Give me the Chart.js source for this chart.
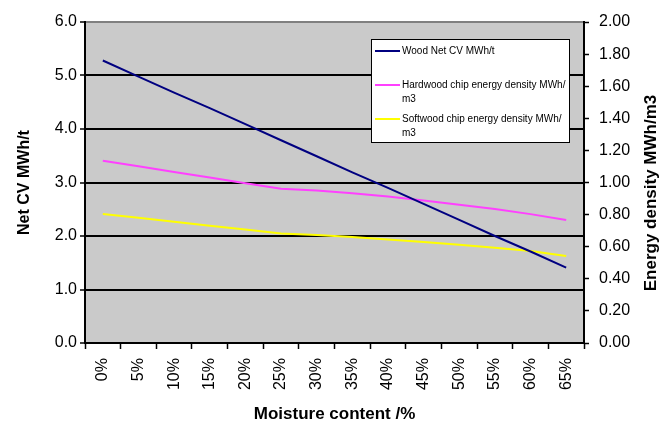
<!DOCTYPE html>
<html>
<head>
<meta charset="utf-8">
<script src="https://cdn.jsdelivr.net/npm/chart.js@4"></script>
<style>
  html, body { margin: 0; padding: 0; background: #fff; }
  #wrap { width: 660px; height: 421px; }
</style>
</head>
<body>
<div id="wrap"><canvas id="cvChart" width="660" height="421"></canvas></div>
<script>
// values
const moisture = ["0%", "5%", "10%", "15%", "20%", "25%", "30%", "35%", "40%", "45%", "50%", "55%", "60%", "65%"];
const woodNetCV = [5.28, 4.98, 4.68, 4.39, 4.09, 3.79, 3.49, 3.19, 2.90, 2.60, 2.30, 2.00, 1.71, 1.41];
const hardwoodDensity = [1.136, 1.101, 1.066, 1.031, 0.996, 0.961, 0.950, 0.933, 0.913, 0.888, 0.861, 0.835, 0.803, 0.766];
const softwoodDensity = [0.804, 0.780, 0.756, 0.731, 0.707, 0.683, 0.673, 0.660, 0.645, 0.630, 0.612, 0.594, 0.573, 0.542];

const FONT = "'Liberation Sans', Arial, sans-serif";

// grey plot area
const plotBg = {
  id: "plotBg",
  beforeDraw(chart) {
    const { ctx, chartArea: a } = chart;
    ctx.save();
    ctx.fillStyle = "#cacaca";
    ctx.fillRect(a.left, a.top, a.right - a.left, a.bottom - a.top);
    ctx.restore();
  },
};

// right axis title reads bottom-to-top, like the left one
const rightTitle = {
  id: "rightTitle",
  afterDraw(chart) {
    const ctx = chart.ctx;
    ctx.save();
    ctx.translate(651, 193);
    ctx.rotate(-Math.PI / 2);
    ctx.font = "bold 17px " + FONT;
    ctx.fillStyle = "#000";
    ctx.textAlign = "center";
    ctx.textBaseline = "middle";
    ctx.fillText("Energy density MWh/m3", 0, 0);
    ctx.restore();
  },
};

// boxed legend with wrapped labels
const boxLegend = {
  id: "boxLegend",
  afterDraw(chart) {
    const ctx = chart.ctx;
    const x = 371, y = 39, w = 198, h = 103;
    ctx.save();
    ctx.fillStyle = "#fff";
    ctx.fillRect(x, y, w, h);
    ctx.strokeStyle = "#000";
    ctx.lineWidth = 1;
    ctx.strokeRect(x + 0.5, y + 0.5, w, h);
    ctx.font = "10px " + FONT;
    ctx.textBaseline = "middle";
    ctx.fillStyle = "#000";
    const rows = [[51], [85, 99], [119, 133]];
    chart.data.datasets.forEach((ds, i) => {
      const ly = rows[i][0];
      ctx.strokeStyle = ds.borderColor;
      ctx.lineWidth = 2;
      ctx.beginPath();
      ctx.moveTo(375, ly);
      ctx.lineTo(400, ly);
      ctx.stroke();
      ds.legendLines.forEach((t, j) => ctx.fillText(t, 402, rows[i][j]));
    });
    ctx.restore();
  },
};

new Chart(document.getElementById("cvChart"), {
  type: "line",
  data: {
    labels: moisture,
    datasets: [
      {
        label: "Wood Net CV MWh/t",
        legendLines: ["Wood Net CV MWh/t"],
        data: woodNetCV,
        yAxisID: "y",
        borderColor: "#000080",
        borderWidth: 2,
        pointRadius: 0,
        tension: 0,
      },
      {
        label: "Hardwood chip energy density MWh/m3",
        legendLines: ["Hardwood chip energy density MWh/", "m3"],
        data: hardwoodDensity,
        yAxisID: "y1",
        borderColor: "#ff40ff",
        borderWidth: 2,
        pointRadius: 0,
        tension: 0,
      },
      {
        label: "Softwood chip energy density MWh/m3",
        legendLines: ["Softwood chip energy density MWh/", "m3"],
        data: softwoodDensity,
        yAxisID: "y1",
        borderColor: "#ffff00",
        borderWidth: 2,
        pointRadius: 0,
        tension: 0,
      },
    ],
  },
  options: {
    responsive: false,
    animation: false,
    layout: { padding: { top: 22, left: 0, right: 0, bottom: 0 } },
    plugins: {
      legend: { display: false },
      tooltip: { enabled: false },
    },
    scales: {
      x: {
        offset: true,
        grid: {
          offset: true,
          drawOnChartArea: false,
          drawTicks: true,
          tickLength: 6,
          tickColor: "#000",
          tickWidth: 1.5,
        },
        border: { color: "#000", width: 2 },
        ticks: {
          minRotation: 90,
          maxRotation: 90,
          padding: 9,
          color: "#000",
          font: { family: FONT, size: 16 },
        },
        title: {
          display: true,
          text: "Moisture content /%",
          color: "#000",
          font: { family: FONT, size: 17, weight: "bold", lineHeight: 1 },
          padding: { top: 0, bottom: -2 },
        },
        afterFit(scale) { scale.height = 78; },
      },
      y: {
        position: "left",
        min: 0,
        max: 6,
        ticks: {
          stepSize: 1,
          padding: 3,
          color: "#000",
          font: { family: FONT, size: 16 },
          callback: (v) => v.toFixed(1),
        },
        grid: {
          color: (c) => (c.tick && c.tick.value === 6 ? "#808080" : "#000"),
          lineWidth: 2,
          tickLength: 5,
          tickColor: "#000",
          tickWidth: 1.5,
        },
        border: { color: "#000", width: 2 },
        title: {
          display: true,
          text: "Net CV MWh/t",
          color: "#000",
          font: { family: FONT, size: 16, weight: "bold", lineHeight: 1 },
          padding: { top: 17, bottom: 0 },
        },
        afterFit(scale) { scale.width = 85; },
      },
      y1: {
        position: "right",
        min: 0,
        max: 2,
        ticks: {
          stepSize: 0.2,
          padding: 10,
          color: "#000",
          font: { family: FONT, size: 16 },
          callback: (v) => v.toFixed(2),
        },
        grid: {
          drawOnChartArea: false,
          tickLength: 5,
          tickColor: "#000",
          tickWidth: 1.5,
        },
        border: { color: "#000", width: 2 },
        afterFit(scale) { scale.width = 76; },
      },
    },
  },
  plugins: [plotBg, boxLegend, rightTitle],
});
</script>
</body>
</html>
